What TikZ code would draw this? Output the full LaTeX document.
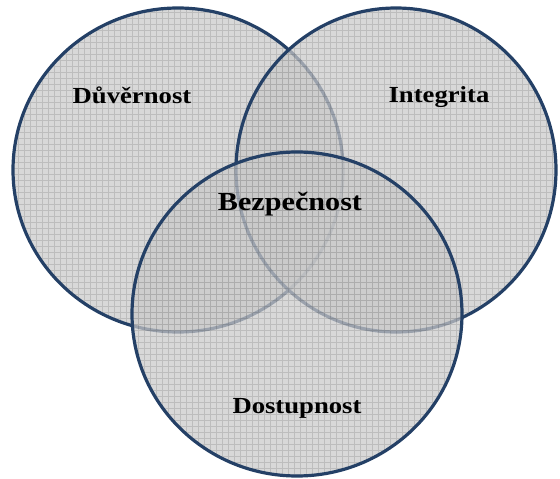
\documentclass[tikz,border=0pt]{standalone}
\usepackage{fontspec}
\setmainfont{Liberation Serif}
\definecolor{rimblue}{RGB}{36,64,102}
\tikzset{
  setfill/.style={fill=black!21, fill opacity=0.72},
  setgrid/.style={draw=black, opacity=0.12, line width=0.6pt},
  setrim/.style={draw=rimblue, line width=3.2pt},
  setlabel/.style={anchor=base, transform shape, xscale=1.16, font=\bfseries\fontsize{23}{27}\selectfont},
  biglabel/.style={setlabel, font=\bfseries\fontsize{26}{30}\selectfont}
}
\newcommand{\vennset}[2]{%
  \begin{scope}
    \clip (#1) ellipse [x radius=#2, y radius=162pt];
    \fill[setfill] (0,0) rectangle (560,479);
    \draw[setgrid, step=6pt] (0,0) grid (560,479);
  \end{scope}
  \draw[setrim] (#1) ellipse [x radius=#2, y radius=162pt];
}

\begin{document}
\begin{tikzpicture}[x=1pt, y=-1pt]
        \useasboundingbox (0,0) rectangle (560,479);
        \coordinate (cd) at (178,170);
        \coordinate (ci) at (396,170);
        \coordinate (cb) at (297,314);
        % three sets, later ones over earlier rims
        \vennset{cd}{165pt}
        \vennset{ci}{160pt}
        \vennset{cb}{165pt}
        \node (duv) [setlabel] at (132,103) {Důvěrnost};
        \node (int) [setlabel] at (439,102) {Integrita};
        \node (bez) [biglabel] at (290,210) {Bezpečnost};
        \node (dos) [setlabel] at (297,413) {Dostupnost};
\end{tikzpicture}
\end{document}
